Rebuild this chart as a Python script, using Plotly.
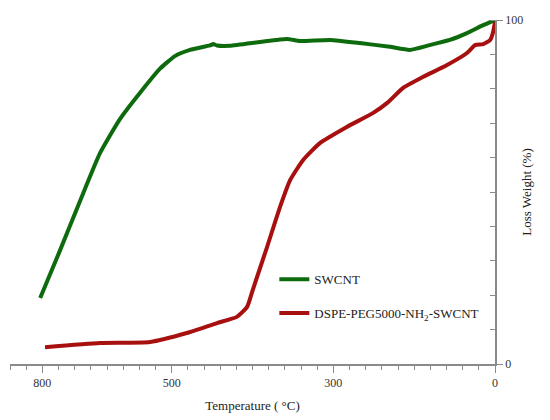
import plotly.graph_objects as go

# x positions are in axis units (30 units per minor tick); labels follow the picture
swcnt_x = [844, 807, 770, 733, 696, 659, 622, 594, 566, 529, 523, 516, 492, 436, 386,
           362, 306, 251, 195, 158, 121, 84, 52, 22, 0]
swcnt_y = [19.2, 33.1, 47.4, 61.3, 71.2, 78.8, 85.8, 89.5, 91.3, 92.6, 93.0, 92.6, 92.5,
           93.6, 94.5, 93.9, 94.2, 93.3, 92.2, 91.3, 92.7, 94.2, 96.2, 98.5, 100]

peg_x = [835, 733, 640, 572, 516, 479, 460, 449, 423, 399, 380, 356, 325, 275, 226, 200,
         171, 134, 89, 52, 37, 22, 9, 4, 0]
peg_y = [4.9, 6.1, 6.4, 9.0, 11.9, 13.7, 16.6, 21.8, 34.0, 45.6, 53.5, 59.3, 64.2, 68.9,
         73.0, 75.9, 80.2, 83.4, 86.9, 90.4, 92.7, 93.0, 94.2, 96.2, 99.4]

x_tickvals = [0, 300, 600, 840]
x_ticktext = ["0", "300", "500", "800"]
y_tickvals = [0, 100]

FONT = "Liberation Serif, Times New Roman, serif"
AXIS = "#8a8a8a"

fig = go.Figure()
fig.add_trace(go.Scatter(
    x=swcnt_x, y=swcnt_y, mode="lines", name="SWCNT", legendgroup="a",
    line=dict(color="#0d6b0d", width=4, shape="spline", smoothing=0.5),
))
fig.add_trace(go.Scatter(
    x=peg_x, y=peg_y, mode="lines", name="DSPE-PEG5000-NH<sub>2</sub>-SWCNT", legendgroup="b",
    line=dict(color="#a80f0f", width=4, shape="spline", smoothing=0.5),
))

# page body keeps its default 8px margin, so the figure is offset by that much
fig.update_layout(
    width=542, height=412,
    margin=dict(l=2, r=55, t=12, b=56),
    paper_bgcolor="white", plot_bgcolor="white",
    font=dict(family=FONT, size=12, color="#333"),
    showlegend=True,
    legend=dict(x=0.545, y=0.29, xanchor="left", yanchor="top", tracegroupgap=14,
                font=dict(size=13, color="#222"), bgcolor="rgba(0,0,0,0)"),
    xaxis=dict(
        range=[900, 0], showgrid=False, zeroline=False,
        showline=True, linecolor=AXIS, linewidth=1.5,
        tickvals=x_tickvals, ticktext=x_ticktext,
        ticks="outside", ticklen=7, tickcolor=AXIS,
        minor=dict(dtick=30, tick0=0, ticks="outside", ticklen=4, tickcolor=AXIS),
        title=dict(text="Temperature ( °C)", font=dict(size=13, color="#222"), standoff=12),
        tickfont=dict(size=12, color="#333"),
    ),
    yaxis=dict(
        range=[0, 100], side="right", showgrid=False, zeroline=False,
        showline=True, linecolor=AXIS, linewidth=1.5,
        tickvals=y_tickvals, ticks="outside", ticklen=6, tickcolor=AXIS,
        minor=dict(dtick=10, tick0=0, ticks="inside", ticklen=5, tickcolor=AXIS),
        title=dict(text="Loss Weight (%)", font=dict(size=13, color="#222"), standoff=0),
        tickfont=dict(size=12, color="#333"),
    ),
)

fig.write_html("out.html")
